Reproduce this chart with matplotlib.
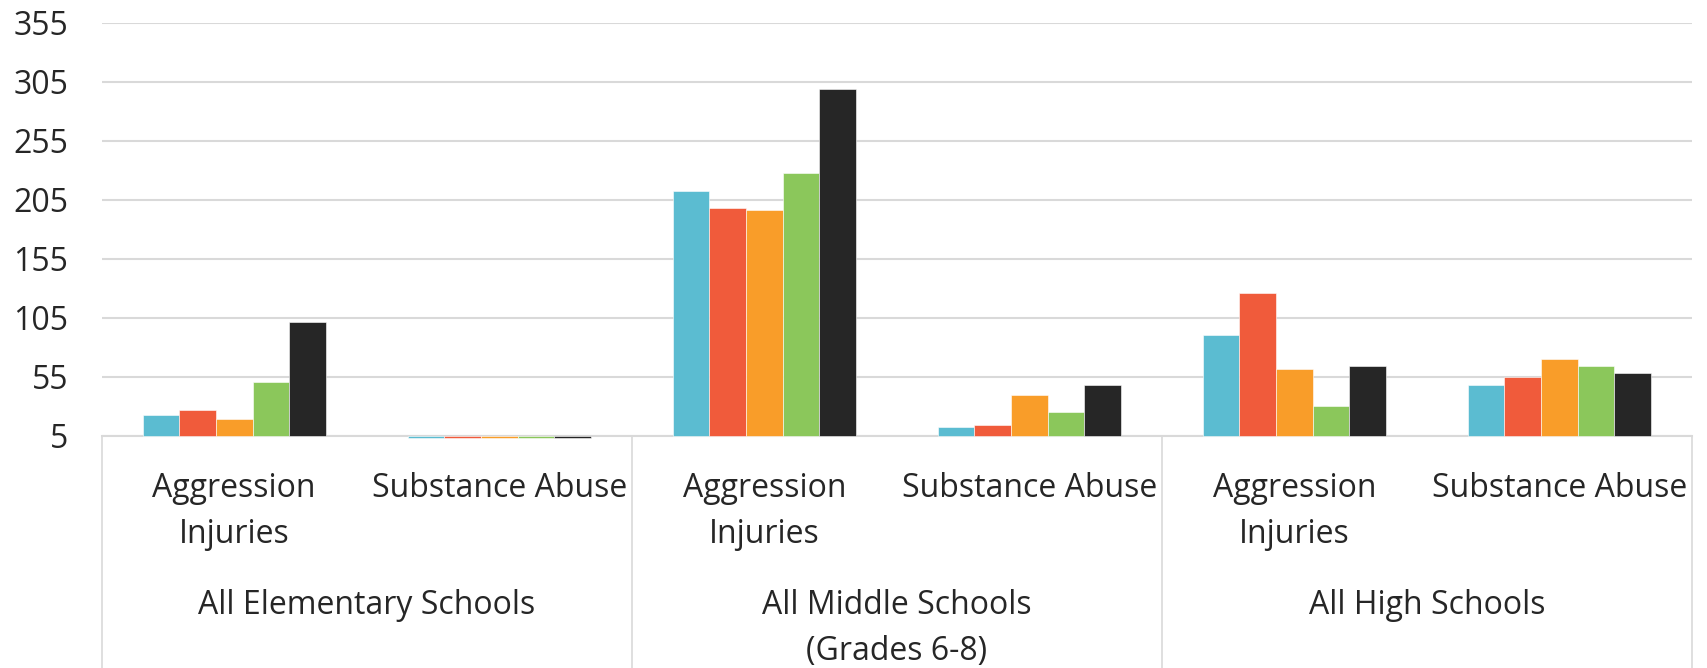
import matplotlib.pyplot as plt
import matplotlib.transforms as mtransforms
import numpy as np

# categories: (school level, incident type)
groups = ['All Elementary Schools', 'All Middle Schools\n(Grades 6-8)', 'All High Schools']
sub_labels = ['Aggression\nInjuries', 'Substance Abuse']

# five series (no legend in the original), one value per category
s1 = [22, 3, 212, 12, 90, 48]
s2 = [27, 3, 198, 14, 126, 55]
s3 = [19, 3, 196, 39, 61, 70]
s4 = [50, 3, 228, 25, 30, 64]
s5 = [101, 3, 299, 48, 64, 58]
series = [s1, s2, s3, s4, s5]
colors = ['#5BBCD1', '#F05B3B', '#F99D29', '#8BC75B', '#262626']

yticks = [5, 55, 105, 155, 205, 255, 305, 355]

plt.rcParams['font.family'] = ['Open Sans', 'DejaVu Sans']

fig = plt.figure(figsize=(17.07, 6.68), dpi=100)
ax = fig.add_axes([0.0596, 0.348, 0.9315, 0.618])

n = len(series)
w = 0.1384
x = np.arange(len(s1))
for i, (vals, c) in enumerate(zip(series, colors)):
    vals = np.array(vals)
    ax.bar(x + (i - (n - 1) / 2) * w, vals - 5, bottom=5, width=w, color=c,
           edgecolor='white', linewidth=0.4, zorder=3, clip_on=False)

ax.set_xlim(-0.5, len(s1) - 0.5)
ax.set_ylim(5, 355)
ax.set_yticks(yticks)
ax.set_yticklabels([str(t) for t in yticks], fontsize=23, color='#262626')
ax.tick_params(axis='y', length=0, pad=24)
ax.tick_params(axis='x', length=0, labelbottom=False)
ax.grid(axis='y', color='#D9D9D9', linewidth=1.5, zorder=0)
for s in ['top', 'right', 'left']:
    ax.spines[s].set_visible(False)
ax.spines['bottom'].set_color('#D9D9D9')
ax.spines['bottom'].set_linewidth(1.5)
ax.spines['bottom'].set_zorder(2)

# category table below the axis
trans = mtransforms.blended_transform_factory(ax.transData, fig.transFigure)
base = 1 - 435.5 / 668
for xv in [-0.5, 1.5, 3.5, 5.5]:
    ax.plot([xv, xv], [base, 0], color='#D9D9D9', linewidth=1.2,
            transform=trans, clip_on=False)

for k in range(len(s1)):
    lines = sub_labels[k % 2].split('\n')
    for j, t in enumerate(lines):
        ax.text(k, 0.2685 - j * 0.068, t, transform=trans, ha='center', va='center',
                fontsize=23, color='#262626')

for g, name in enumerate(groups):
    lines = name.split('\n')
    for j, t in enumerate(lines):
        ax.text(2 * g + 0.5, 0.094 - j * 0.069, t, transform=trans, ha='center',
                va='center', fontsize=23, color='#262626')

fig.savefig('out.png', dpi=100)
